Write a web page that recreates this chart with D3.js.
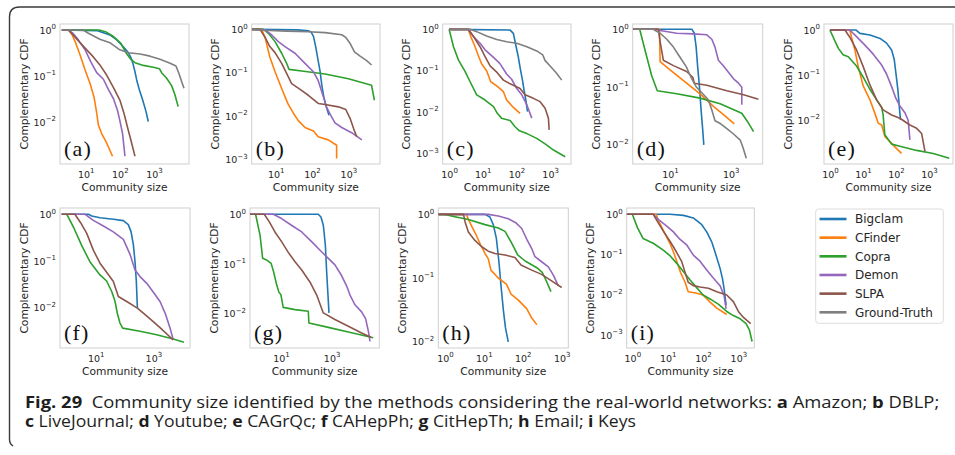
<!DOCTYPE html>
<html>
<head>
<meta charset="utf-8">
<script src="https://cdn.jsdelivr.net/npm/d3@7"></script>
<style>
  html, body { margin: 0; padding: 0; background: #fff; }
  svg { display: block; }
  text { white-space: pre; }
</style>
</head>
<body>
<svg id="fig" width="955" height="455"></svg>
<script>
// Community detection methods, in plotting order
const methods = ["Bigclam", "CFinder", "Copra", "Demon", "SLPA", "Ground-Truth"];
const methodColors = ["#1f77b4", "#ff7f0e", "#2ca02c", "#9467bd", "#8c564b", "#7f7f7f"];

const panelTags = ["(a)", "(b)", "(c)", "(d)", "(e)", "(f)", "(g)", "(h)", "(i)"];
// Decade exponents labelled on each panel's axes
const xTickPowers = [[1, 2, 3], [1, 2, 3], [0, 1, 2, 3], [1, 3], [0, 1, 2, 3], [1, 3], [1, 3], [0, 1, 2, 3], [0, 1, 2, 3]];
const yTickPowers = [[0, -1, -2], [0, -1, -2, -3], [0, -1, -2, -3], [0, -1, -2], [0, -1, -2], [0, -1, -2], [0, -1, -2], [0, -1, -2], [0, -1, -2, -3]];

// Complementary CDF of community size: [size, P(S >= size)]
const amazon = {
  "Bigclam": [[2,1],[21,0.97],[33,0.875],[51,0.78],[81,0.61],[113,0.47],[151,0.37],[178,0.32],[209,0.255],[240,0.19],[277,0.124],[311,0.082],[372,0.05],[466,0.03],[585,0.0168],[680,0.0102]],
  "CFinder": [[2,1],[3.1,1],[3.9,0.82],[4.9,0.56],[6.8,0.29],[9.6,0.135],[13.4,0.069],[17.5,0.035],[21,0.0155],[23.5,0.0086],[29.3,0.0056],[41,0.0035],[61,0.0018]],
  "Copra": [[2,1],[25,1],[40,0.9],[65,0.72],[106,0.52],[151,0.32],[209,0.23],[277,0.195],[488,0.17],[955,0.155],[1440,0.144],[1670,0.118],[2350,0.089],[3300,0.061],[4100,0.039],[5100,0.0216]],
  "Demon": [[2,1],[3.1,1],[4.2,0.85],[6.1,0.61],[9.6,0.37],[14,0.205],[21,0.118],[33,0.085],[46,0.051],[65,0.032],[85,0.018],[100,0.0107],[120,0.0056],[132,0.0029],[141,0.0018]],
  "SLPA": [[2,1],[3.1,1],[4.3,0.78],[6.8,0.53],[10.7,0.37],[16.7,0.26],[26,0.174],[41,0.105],[65,0.056],[100,0.03],[132,0.0155],[166,0.0079],[209,0.0041],[277,0.0018]],
  "Ground-Truth": [[2,1],[8.5,1],[12,0.85],[26,0.63],[51,0.53],[100,0.37],[177,0.32],[390,0.3],[765,0.27],[1500,0.23],[2960,0.19],[4400,0.165],[5350,0.115],[6440,0.076],[7560,0.054]]
};
const dblp = {
  "Bigclam": [[2.2,1],[40,0.97],[79,0.93],[94,0.87],[110,0.68],[126,0.4],[144,0.21],[167,0.105],[186,0.051],[210,0.028],[247,0.016],[293,0.0104]],
  "CFinder": [[2.2,1],[4.1,1],[5.1,0.65],[6.9,0.23],[9.6,0.105],[14.6,0.043],[22,0.0187],[31,0.0114],[42,0.0078],[64,0.0054],[109,0.0045],[148,0.0033],[280,0.0028],[475,0.0021],[475,0.00104]],
  "Copra": [[2.2,1],[4.6,1],[6.3,0.81],[9.6,0.52],[14.6,0.28],[20,0.164],[23.3,0.119],[52,0.109],[229,0.093],[1000,0.072],[4350,0.051],[5200,0.023]],
  "Demon": [[2.2,1],[5.1,0.97],[7.8,0.74],[11.8,0.52],[18,0.4],[34,0.28],[64,0.164],[109,0.105],[148,0.065],[204,0.028],[251,0.016],[314,0.011],[428,0.0069],[656,0.0054],[1230,0.0041],[2350,0.0028]],
  "SLPA": [[2.2,1],[3.7,1],[5.1,0.65],[6.9,0.4],[9.6,0.29],[14.6,0.164],[20,0.096],[27.5,0.056],[47,0.041],[79,0.03],[148,0.0194],[229,0.0184],[530,0.0162],[850,0.0141],[1120,0.0087],[1390,0.0051],[1700,0.0033]],
  "Ground-Truth": [[2.2,1],[4.6,0.95],[20,0.91],[79,0.88],[229,0.84],[656,0.75],[850,0.65],[1120,0.47],[1470,0.3],[2100,0.24],[3180,0.19],[4350,0.15]]
};
const liveJournal = {
  "Bigclam": [[1,1],[65,0.96],[81,0.8],[93,0.46],[113,0.22],[132,0.104],[151,0.059],[168,0.034],[190,0.0195],[213,0.0102]],
  "CFinder": [[1,1],[3.7,1],[4.4,0.67],[5.9,0.38],[7.4,0.23],[9.3,0.145],[13,0.1],[17.2,0.054],[26,0.043],[41,0.031],[51,0.0195],[81,0.0129],[128,0.0093]],
  "Copra": [[1,1],[1.35,0.38],[1.9,0.18],[3,0.095],[4.2,0.054],[6.6,0.026],[11.7,0.0195],[20.8,0.0135],[27,0.0093],[36,0.0071],[65,0.0062],[91,0.0044],[123,0.0035],[204,0.003],[400,0.0023],[710,0.0017],[1260,0.0012],[2800,0.00083]],
  "Demon": [[1,1],[3.7,1],[5.3,0.67],[8.3,0.46],[11.7,0.32],[20.8,0.21],[32,0.15],[51,0.083],[72,0.062],[102,0.037],[144,0.026],[204,0.0148],[285,0.0071]],
  "SLPA": [[1,1],[3.7,1],[5.3,0.67],[8.3,0.38],[11.7,0.22],[16.5,0.13],[25,0.095],[41,0.059],[65,0.048],[128,0.037],[180,0.026],[318,0.0214],[505,0.0178],[710,0.0123],[890,0.0071],[935,0.0037]],
  "Ground-Truth": [[1,1],[4.2,1],[6.6,0.88],[13,0.69],[26,0.57],[51,0.5],[102,0.46],[204,0.38],[400,0.3],[605,0.24],[710,0.175],[1000,0.13],[1510,0.089],[2220,0.059]]
};
const youtube = {
  "Bigclam": [[0.6,1],[52,1],[63,0.85],[72,0.5],[81,0.225],[93,0.1],[105,0.04],[119,0.018],[129,0.0099]],
  "CFinder": [[0.6,1],[4.5,1],[4.7,0.275],[10,0.197],[35,0.116],[97,0.076],[268,0.046],[575,0.033],[1300,0.023]],
  "Copra": [[1,1],[1.6,0.38],[2.5,0.155],[3.8,0.086],[16.6,0.076],[97,0.064],[445,0.051],[2300,0.035],[3560,0.025],[5600,0.0168]],
  "Demon": [[0.6,1],[3.6,1],[4.7,0.95],[16.6,0.85],[59,0.83],[162,0.8],[237,0.67],[302,0.49],[390,0.29],[575,0.23],[835,0.18],[1230,0.138],[1790,0.116],[2300,0.099],[2300,0.049]],
  "SLPA": [[0.6,1],[4.1,1],[4.7,0.61],[5.5,0.38],[6,0.29],[12.9,0.234],[35,0.185],[56,0.147],[63,0.116],[162,0.107],[740,0.086],[2630,0.073],[8100,0.061]],
  "Ground-Truth": [[0.6,1],[2.8,1],[4.7,0.85],[7.8,0.67],[12.9,0.49],[21,0.33],[34,0.225],[49,0.147],[72,0.101],[119,0.076],[183,0.06],[237,0.04],[302,0.026],[465,0.023],[740,0.019],[1230,0.0153],[2040,0.012],[2500,0.009],[3230,0.0058]]
};
const caGrQc = {
  "Bigclam": [[1,1],[6.1,1],[8.1,0.84],[16.3,0.77],[33,0.65],[52,0.51],[74,0.36],[89,0.22],[100,0.109],[115,0.046],[129,0.0167],[138,0.01]],
  "CFinder": [[1,1],[4,1],[4.5,0.69],[5.7,0.36],[7.2,0.153],[10.2,0.057],[16.3,0.028],[23,0.014],[29,0.0085],[37,0.0077],[46,0.0043],[66,0.0033],[105,0.0023],[148,0.0018]],
  "Copra": [[1,1],[1.4,0.58],[1.8,0.39],[2.5,0.28],[3.6,0.255],[6.4,0.158],[10.2,0.089],[16.3,0.048],[26,0.028],[37,0.019],[41,0.0129],[46,0.0047],[74,0.0029],[132,0.0026],[425,0.0021],[1350,0.0018],[4140,0.0014]],
  "Demon": [[1,1],[4,1],[6.4,0.71],[11.5,0.46],[20.5,0.29],[37,0.166],[52,0.105],[74,0.055],[100,0.03],[132,0.0205],[187,0.0145],[236,0.0097],[265,0.0036]],
  "SLPA": [[1,1],[2.85,1],[4,0.69],[6.4,0.36],[10.2,0.153],[16.3,0.06],[26,0.028],[41,0.0167],[74,0.0129],[132,0.0109],[265,0.0077],[425,0.0065],[600,0.005],[760,0.002]]
};
const caHepPh = {
  "Bigclam": [[0.66,1],[5.6,1],[7.3,0.92],[14.1,0.84],[41,0.78],[91,0.73],[135,0.6],[169,0.42],[203,0.22],[231,0.096],[257,0.036],[279,0.0097]],
  "Copra": [[1,1],[1.8,0.49],[3.2,0.22],[6.3,0.096],[14.1,0.05],[24,0.037],[36,0.022],[47,0.0134],[56,0.0076],[69,0.0047],[86,0.0036],[345,0.0031],[1300,0.0026],[4900,0.0021],[11500,0.0018]],
  "Demon": [[0.66,1],[4.3,1],[8.3,0.74],[18.5,0.56],[41,0.42],[91,0.29],[155,0.138],[231,0.064],[345,0.046],[590,0.033],[1000,0.0213],[1700,0.0134],[2680,0.007],[3800,0.0036],[4900,0.002]],
  "SLPA": [[0.66,1],[1.9,1],[3,0.66],[4.9,0.39],[8.3,0.17],[14.1,0.089],[24,0.057],[41,0.036],[61,0.0172],[119,0.0134],[279,0.0097],[670,0.0061],[1700,0.0037],[4900,0.002]]
};
const citHepTh = {
  "Bigclam": [[0.6,1],[295,1],[380,0.88],[470,0.6],[565,0.24],[635,0.07],[716,0.0237],[785,0.0102]],
  "Copra": [[1,1],[1.5,0.38],[1.9,0.129],[2.7,0.12],[4.1,0.102],[5.1,0.07],[6.8,0.0376],[8.3,0.0268],[10,0.0237],[12.3,0.0132],[36,0.0119],[120,0.011],[127,0.0064],[740,0.0052],[4560,0.0042],[43600,0.0032]],
  "Demon": [[0.6,1],[5,1],[10.6,0.82],[26,0.6],[66,0.44],[162,0.28],[400,0.175],[740,0.129],[1350,0.095],[2460,0.058],[3880,0.036],[5250,0.0237],[8300,0.0149],[15200,0.0107],[21800,0.0078],[28000,0.0044],[32600,0.0027]],
  "SLPA": [[0.6,1],[2.2,1],[3.4,0.72],[5.8,0.44],[10.6,0.28],[19.5,0.17],[36,0.11],[66,0.075],[139,0.043],[255,0.0237],[470,0.0102],[1350,0.0075],[4560,0.0055],[15200,0.004],[35500,0.0033]]
};
const email = {
  "Bigclam": [[0.68,1],[10.7,1],[14.3,0.91],[17.5,0.69],[21,0.42],[24.4,0.18],[28,0.069],[32,0.0298],[36,0.0164],[42.4,0.0099]],
  "CFinder": [[0.68,1],[3.6,1],[4.1,0.81],[5,0.63],[6.1,0.5],[8.3,0.33],[10.7,0.243],[13,0.2],[15.2,0.133],[23.5,0.1],[38,0.08],[50,0.056],[77,0.045],[126,0.033],[170,0.0235],[230,0.0185]],
  "Copra": [[0.68,1],[1,1],[1.8,0.92],[4,0.83],[10.7,0.69],[23.5,0.61],[35,0.54],[50,0.37],[74,0.23],[115,0.185],[230,0.145],[316,0.123],[408,0.088],[530,0.061]],
  "Demon": [[0.68,1],[13,1],[23.5,0.94],[42.4,0.855],[66,0.74],[94,0.6],[126,0.41],[170,0.29],[206,0.216],[305,0.18],[455,0.15],[610,0.111],[815,0.076]],
  "SLPA": [[0.68,1],[3,1],[3.3,0.76],[4,0.53],[5.9,0.39],[8.8,0.31],[13,0.264],[19.3,0.243],[35,0.23],[63,0.21],[90,0.16],[170,0.133],[305,0.114],[550,0.09],[1000,0.071]]
};
const keys = {
  "Bigclam": [[0.69,1],[11.6,1],[28,0.94],[53,0.81],[92,0.55],[127,0.365],[176,0.206],[233,0.096],[303,0.045],[353,0.0254],[392,0.0144],[450,0.0055]],
  "CFinder": [[0.69,1],[4.7,1],[5.4,0.71],[7.5,0.4],[9.8,0.25],[12.2,0.17],[15.1,0.106],[18.8,0.06],[23,0.0358],[31,0.0203],[38,0.0118],[63,0.011],[100,0.0098],[158,0.0065],[245,0.0046],[468,0.0032]],
  "Copra": [[1,1],[1.4,0.46],[2,0.25],[3.9,0.19],[7.5,0.128],[11.6,0.093],[18,0.06],[28,0.037],[43,0.023],[66,0.0149],[100,0.0098],[158,0.0078],[270,0.0058],[468,0.0038],[720,0.003],[1120,0.0025],[1650,0.0019],[2040,0.00133],[2440,0.00068]],
  "Demon": [[0.69,1],[3.9,1],[5.4,0.75],[9.4,0.51],[14.5,0.365],[22,0.24],[35,0.17],[53,0.096],[82,0.068],[127,0.041],[195,0.026],[303,0.0167],[392,0.0095],[450,0.0044]],
  "SLPA": [[0.69,1],[3.9,1],[5.1,0.67],[7.5,0.38],[11.6,0.214],[17.2,0.12],[25,0.066],[31,0.0358],[38,0.0203],[53,0.0167],[82,0.0155],[142,0.0144],[245,0.0118],[468,0.0098],[720,0.0067],[1000,0.0038],[1390,0.0027],[2220,0.0019]]
};
const networks = [amazon, dblp, liveJournal, youtube, caGrQc, caHepPh, citHepTh, email, keys];

// Panel placement: plot box [x0, y0, x1, y1] and log10 axis limits
const panelLayout = [
  { box: [60, 24, 189, 164],      xLog: [0.247, 4.025], yLog: [-2.913, 0.13] },
  { box: [251.7, 24, 380, 164],   xLog: [0.34, 3.87],   yLog: [-3.11, 0.123] },
  { box: [442.7, 24, 571, 164],   xLog: [-0.19, 3.62],  yLog: [-3.258, 0.129] },
  { box: [632.7, 24, 762.7, 164], xLog: [-0.23, 4.05],  yLog: [-2.335, 0.09] },
  { box: [824, 24, 953, 164],     xLog: [-0.18, 3.73],  yLog: [-2.98, 0.133] },
  { box: [60, 208, 190, 348],     xLog: [-0.237, 4.27], yLog: [-2.87, 0.135] },
  { box: [250, 208, 379.3, 348],  xLog: [-0.22, 4.88],  yLog: [-2.70, 0.127] },
  { box: [438.3, 208, 568.3, 348], xLog: [-0.17, 3.17], yLog: [-2.10, 0.10] },
  { box: [626.7, 208, 754.3, 348], xLog: [-0.16, 3.45], yLog: [-3.33, 0.157] }
];

const svg = d3.select("#fig");
const SANS = "'DejaVu Sans', sans-serif";
const textColor = "#262626";

// Outer figure frame (rounded top-left corner)
svg.append("path")
  .attr("d", "M 13,446 Q 9.5,444 9.5,439 L 9.5,17 Q 9.5,7 19.5,7 L 960,7")
  .attr("fill", "none").attr("stroke", "#3a3a3a").attr("stroke-width", 1.4);

const defs = svg.append("defs");

function powerLabel(sel, p) {
  sel.text(null);
  sel.append("tspan").text("10");
  sel.append("tspan").attr("dy", -4.5).attr("font-size", 7)
    .text(p < 0 ? "\u2212" + (-p) : String(p));
}

networks.forEach((net, i) => {
  const L = panelLayout[i];
  const [x0, y0, x1, y1] = L.box;
  const x = d3.scaleLog().domain([10 ** L.xLog[0], 10 ** L.xLog[1]]).range([x0, x1]);
  const y = d3.scaleLog().domain([10 ** L.yLog[0], 10 ** L.yLog[1]]).range([y1, y0]);
  const g = svg.append("g");

  defs.append("clipPath").attr("id", "clip" + i)
    .append("rect").attr("x", x0).attr("y", y0).attr("width", x1 - x0).attr("height", y1 - y0);

  // Axes with decade labels only
  const xAxis = d3.axisBottom(x).tickValues(xTickPowers[i].map(p => 10 ** p)).tickSize(0).tickPadding(5);
  const yAxis = d3.axisLeft(y).tickValues(yTickPowers[i].map(p => 10 ** p)).tickSize(0).tickPadding(4);

  const gx = g.append("g").attr("transform", `translate(0,${y1})`).call(xAxis);
  gx.select(".domain").remove();
  gx.selectAll(".tick text")
    .attr("font-family", SANS).attr("font-size", 9.5).attr("fill", textColor)
    .attr("dy", "0.9em")
    .each(function (d) { powerLabel(d3.select(this), Math.round(Math.log10(d))); });

  const gy = g.append("g").attr("transform", `translate(${x0},0)`).call(yAxis);
  gy.select(".domain").remove();
  gy.selectAll(".tick text")
    .attr("font-family", SANS).attr("font-size", 9.5).attr("fill", textColor)
    .attr("dy", "0.35em")
    .each(function (d) { powerLabel(d3.select(this), Math.round(Math.log10(d))); });

  // Plot box
  g.append("rect").attr("x", x0).attr("y", y0).attr("width", x1 - x0).attr("height", y1 - y0)
    .attr("fill", "none").attr("stroke", "#cfcfcf").attr("stroke-width", 1);

  // Curves
  const line = d3.line().x(d => x(d[0])).y(d => y(d[1]));
  const curves = g.append("g").attr("clip-path", `url(#clip${i})`);
  methods.forEach((m, k) => {
    if (!net[m]) return;
    curves.append("path").datum(net[m])
      .attr("d", line)
      .attr("fill", "none")
      .attr("stroke", methodColors[k])
      .attr("stroke-width", 1.6)
      .attr("stroke-linejoin", "round");
  });

  // Axis titles
  g.append("text").attr("x", (x0 + x1) / 2).attr("y", y1 + 27)
    .attr("text-anchor", "middle").attr("font-family", SANS).attr("font-size", 10.7)
    .attr("fill", textColor).text("Community size");
  g.append("text")
    .attr("transform", `translate(${x0 - 36},${(y0 + y1) / 2}) rotate(-90)`)
    .attr("text-anchor", "middle").attr("dy", "0.35em")
    .attr("font-family", SANS).attr("font-size", 10.7)
    .attr("fill", textColor).text("Complementary CDF");

  // Panel tag
  g.append("text").attr("x", x0 + 4).attr("y", y1 - 8)
    .attr("font-family", "'Liberation Serif', 'DejaVu Serif', serif").attr("font-size", 22)
    .attr("letter-spacing", 1.2).attr("fill", "#111").text(panelTags[i]);
});

// Legend
const lg = svg.append("g");
lg.append("rect").attr("x", 815.7).attr("y", 209).attr("width", 127.6).attr("height", 114.3)
  .attr("rx", 3).attr("fill", "#fff").attr("stroke", "#dddddd").attr("stroke-width", 1);
methods.forEach((m, k) => {
  const cy = 219 + k * 18.66;
  lg.append("line").attr("x1", 819.5).attr("x2", 846.5).attr("y1", cy).attr("y2", cy)
    .attr("stroke", methodColors[k]).attr("stroke-width", 2.6);
  lg.append("text").attr("x", 855).attr("y", cy).attr("dy", "0.36em")
    .attr("font-family", SANS).attr("font-size", 12).attr("fill", textColor).text(m);
});

// Caption, two lines, each fitted to its printed width
const captionLines = [
  [["Fig. 29", true], ["  Community size identified by the methods considering the real-world networks: ", false],
   ["a", true], [" Amazon; ", false], ["b", true], [" DBLP;", false]],
  [["c", true], [" LiveJournal; ", false], ["d", true], [" Youtube; ", false], ["e", true], [" CAGrQc; ", false],
   ["f", true], [" CAHepPh; ", false], ["g", true], [" CitHepTh; ", false], ["h", true], [" Email; ", false],
   ["i", true], [" Keys", false]]
];
const captionWidths = [915, 611];
captionLines.forEach((parts, li) => {
  const row = svg.append("g");
  const t = row.append("text").attr("x", 0).attr("y", 0)
    .attr("font-family", "'Open Sans', 'Noto Sans', sans-serif").attr("font-size", 15.5)
    .attr("fill", "#1e1e1e");
  parts.forEach(([s, bold]) => {
    t.append("tspan").attr("font-weight", bold ? 700 : 400).text(s);
  });
  const sx = captionWidths[li] / t.node().getComputedTextLength();
  row.attr("transform", `translate(25,${408 + li * 19.3}) scale(${sx},1)`);
});
</script>
</body>
</html>
